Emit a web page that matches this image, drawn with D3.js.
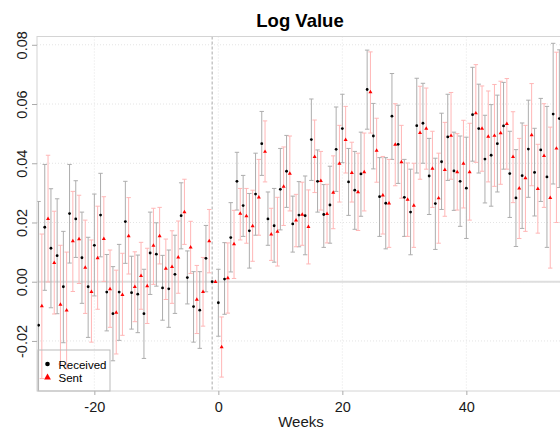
<!DOCTYPE html>
<html><head><meta charset="utf-8">
<script src="https://cdn.jsdelivr.net/npm/d3@7"></script>
<style>
html,body{margin:0;padding:0;background:#fff;}
svg{display:block;font-family:"Liberation Sans",Arial,sans-serif;}
</style></head>
<body><svg id="chart" width="560" height="429"></svg>
<script>
const weeks = [-29,-28,-27,-26,-25,-24,-23,-22,-21,-20,-19,-18,-17,-16,-15,-14,-13,-12,-11,-10,-9,-8,-7,-6,-5,-4,-3,-2,-1,
0,1,2,3,4,5,6,7,8,9,10,11,12,13,14,15,16,17,18,19,20,21,22,23,24,25,26,27,28,29,30,31,32,33,34,35,36,37,38,39,40,
41,42,43,44,45,46,47,48,49,50,51,52,53,54,55];

const receivedValue = [-0.0147,0.0184,0.0113,0.0088,-0.0017,0.0230,0.0212,0.0081,-0.0017,0.0123,0.0225,-0.0035,-0.0108,-0.0035,0.0203,-0.0037,-0.0042,-0.0108,0.0097,0.0093,-0.0021,-0.0024,0.0025,0.0223,0.0014,-0.0084,-0.0096,0.0079,0,
-0.0071,0.0009,0.0149,0.0339,0.0257,0.0172,0.0296,0.0466,0.0212,0.0189,0.0312,0.0373,0.0195,0.0225,0.0223,0.0480,0.0339,0.0227,0.0259,0.0447,0.0517,0.0337,0.0309,0.0364,0.0649,0.0492,0.0287,0.0265,0.0559,0.0464,0.0285,0.0235,0.0527,0.0535,0.0357,0.0264,0.0405,0.0489,0.0374,0.0339,0.0316,
0.0564,0.0517,0.0414,0.0427,0.0466,0.0526,0.0365,0.0283,0.0358,0.0448,0.0369,0.0445,0.0354,0.0566,0.0551];
const receivedLow = [-0.0565,-0.0029,-0.0088,-0.0108,-0.0206,0.0063,0.0082,-0.0073,-0.0188,-0.0048,0.0084,-0.0166,-0.0267,-0.0198,0.0062,-0.0160,-0.0172,-0.0259,-0.0043,-0.0015,-0.0130,-0.0154,-0.0107,0.0111,-0.0075,-0.0204,-0.0225,-0.0034,0,
-0.0184,-0.0110,0.0033,0.0242,0.0153,0.0046,0.0157,0.0359,0.0123,0.0066,0.0175,0.0251,0.0100,0.0118,0.0091,0.0342,0.0235,0.0116,0.0130,0.0305,0.0402,0.0224,0.0177,0.0221,0.0515,0.0381,0.0153,0.0111,0.0413,0.0332,0.0153,0.0091,0.0367,0.0400,0.0227,0.0109,0.0244,0.0342,0.0241,0.0187,0.0146,
0.0407,0.0367,0.0266,0.0255,0.0303,0.0380,0.0217,0.0119,0.0180,0.0285,0.0222,0.0271,0.0116,0.0330,0.0318];
const receivedHigh = [0.0271,0.0396,0.0314,0.0280,0.0170,0.0396,0.0341,0.0235,0.0150,0.0296,0.0366,0.0092,0.0051,0.0126,0.0339,0.0086,0.0090,0.0042,0.0235,0.0199,0.0089,0.0107,0.0157,0.0334,0.0104,0.0034,0.0034,0.0190,0,
0.0042,0.0132,0.0267,0.0437,0.0359,0.0298,0.0434,0.0575,0.0303,0.0315,0.0450,0.0494,0.0289,0.0338,0.0357,0.0617,0.0445,0.0328,0.0390,0.0590,0.0633,0.0450,0.0440,0.0505,0.0782,0.0602,0.0419,0.0419,0.0703,0.0596,0.0413,0.0380,0.0687,0.0670,0.0484,0.0417,0.0569,0.0633,0.0505,0.0492,0.0488,
0.0724,0.0667,0.0562,0.0598,0.0630,0.0673,0.0508,0.0446,0.0536,0.0613,0.0518,0.0619,0.0592,0.0805,0.0783];

const sentValue = [-0.0082,0.0212,0.0064,-0.0077,-0.0097,0.0137,0.0144,0.0048,-0.0034,0.0080,0.0145,-0.0025,-0.0104,-0.0044,0.0154,-0.0017,0.0020,-0.0015,0.0122,0.0154,0.0044,0.0050,0.0082,0.0235,0.0116,-0.0060,-0.0034,0.0137,0,
-0.0221,0.0012,0.0127,0.0230,0.0222,0.0188,0.0285,0.0439,0.0160,0.0169,0.0321,0.0365,0.0207,0.0227,0.0185,0.0422,0.0341,0.0229,0.0301,0.0399,0.0479,0.0368,0.0303,0.0370,0.0640,0.0443,0.0292,0.0265,0.0463,0.0404,0.0277,0.0257,0.0503,0.0517,0.0382,0.0282,0.0378,0.0493,0.0370,0.0399,0.0370,
0.0569,0.0517,0.0490,0.0493,0.0502,0.0533,0.0422,0.0315,0.0350,0.0495,0.0314,0.0425,0.0283,0.0450,null];
const sentLow = [-0.0327,-0.0001,-0.0109,-0.0278,-0.0294,-0.0033,-0.0006,-0.0107,-0.0204,-0.0093,0.0001,-0.0154,-0.0244,-0.0181,0.0026,-0.0135,-0.0093,-0.0141,-0.0009,0.0060,-0.0060,-0.0073,-0.0039,0.0126,0.0028,-0.0175,-0.0150,0.0030,0,
-0.0322,-0.0106,0.0011,0.0141,0.0130,0.0069,0.0157,0.0337,0.0072,0.0053,0.0190,0.0239,0.0118,0.0123,0.0060,0.0301,0.0242,0.0131,0.0179,0.0269,0.0367,0.0269,0.0173,0.0239,0.0502,0.0336,0.0161,0.0116,0.0324,0.0282,0.0153,0.0116,0.0346,0.0380,0.0251,0.0130,0.0221,0.0346,0.0242,0.0249,0.0208,
0.0403,0.0373,0.0337,0.0322,0.0329,0.0380,0.0267,0.0146,0.0170,0.0324,0.0164,0.0251,0.0046,0.0200,null];
const sentHigh = [0.0161,0.0427,0.0238,0.0123,0.0100,0.0305,0.0292,0.0208,0.0141,0.0255,0.0287,0.0107,0.0039,0.0096,0.0284,0.0101,0.0133,0.0113,0.0248,0.0251,0.0144,0.0172,0.0205,0.0346,0.0204,0.0055,0.0082,0.0244,0,
-0.0119,0.0131,0.0241,0.0315,0.0315,0.0309,0.0413,0.0543,0.0248,0.0285,0.0455,0.0492,0.0295,0.0336,0.0310,0.0546,0.0440,0.0329,0.0425,0.0528,0.0592,0.0471,0.0434,0.0502,0.0776,0.0552,0.0423,0.0413,0.0601,0.0528,0.0401,0.0400,0.0660,0.0654,0.0508,0.0434,0.0538,0.0639,0.0500,0.0545,0.0535,
0.0733,0.0661,0.0644,0.0666,0.0677,0.0686,0.0574,0.0484,0.0528,0.0669,0.0464,0.0601,0.0522,0.0775,null];

const xTicks = [-20, 0, 20, 40];
const yTicks = [-0.02, 0.00, 0.02, 0.04, 0.06, 0.08];
const seriesNames = ["Received", "Sent"];
const eventWeek = -1;

(function () {
const svg = d3.select("#chart");
const pL = 37, pT = 36.5, pB = 391;
const x = d3.scaleLinear().domain([-29.25, 56.5]).range([pL, pL + 85.75 * 6.2]);
const y = d3.scaleLinear().domain([-0.0369, 0.0828]).range([pB, pT]);
const pR = x.range()[1];
const dodge = 0.53;

svg.append("defs").append("clipPath").attr("id", "clip")
  .append("rect").attr("x", pL).attr("y", pT).attr("width", pR - pL).attr("height", pB - pT);

// grid
const grid = svg.append("g");
grid.selectAll(".gx").data(xTicks).join("line")
  .attr("x1", d => x(d)).attr("x2", d => x(d)).attr("y1", pT).attr("y2", pB)
  .attr("stroke", "#e4e4e4").attr("stroke-dasharray", "1,2").attr("stroke-width", 1);
grid.selectAll(".gy").data(yTicks).join("line")
  .attr("x1", pL).attr("x2", pR).attr("y1", d => y(d)).attr("y2", d => y(d))
  .attr("stroke", "#e4e4e4").attr("stroke-dasharray", "1,2").attr("stroke-width", 1);

// zero line
svg.append("line").attr("x1", pL).attr("x2", pR).attr("y1", y(0)).attr("y2", y(0))
  .attr("stroke", "#dedede").attr("stroke-width", 2);
// event line
svg.append("line").attr("x1", x(eventWeek)).attr("x2", x(eventWeek)).attr("y1", pT).attr("y2", pB)
  .attr("stroke", "#aaaaaa").attr("stroke-dasharray", "3,2").attr("stroke-width", 1);

const plot = svg.append("g").attr("clip-path", "url(#clip)");

function makeRows(vals, lows, highs, off) {
  return weeks.map((w, i) => ({w: w + off, v: vals[i], lo: lows[i], hi: highs[i]}))
    .filter(d => d.v !== null);
}
const rec = makeRows(receivedValue, receivedLow, receivedHigh, 0);
const sen = makeRows(sentValue, sentLow, sentHigh, dodge);

function drawBars(rows, color) {
  const g = plot.append("g").attr("stroke", color).attr("stroke-width", 1).attr("fill", "none");
  const b = rows.filter(d => d.hi !== d.lo);
  g.selectAll(".v").data(b).join("line")
    .attr("x1", d => x(d.w)).attr("x2", d => x(d.w)).attr("y1", d => y(d.lo)).attr("y2", d => y(d.hi));
  g.selectAll(".t").data(b).join("line")
    .attr("x1", d => x(d.w) - 2.2).attr("x2", d => x(d.w) + 2.2).attr("y1", d => y(d.hi)).attr("y2", d => y(d.hi));
  g.selectAll(".b").data(b).join("line")
    .attr("x1", d => x(d.w) - 2.2).attr("x2", d => x(d.w) + 2.2).attr("y1", d => y(d.lo)).attr("y2", d => y(d.lo));
}
drawBars(rec, "#adadad");
drawBars(sen, "#ffb6b6");

plot.append("g").selectAll("circle").data(rec).join("circle")
  .attr("cx", d => x(d.w)).attr("cy", d => y(d.v)).attr("r", 1.4).attr("fill", "#000");
const tri = d3.symbol().type(d3.symbolTriangle).size(7);
plot.append("g").selectAll("path").data(sen).join("path")
  .attr("transform", d => `translate(${x(d.w)},${y(d.v)})`).attr("d", tri).attr("fill", "#ff0000");

// panel border
svg.append("rect").attr("x", pL).attr("y", pT).attr("width", pR - pL).attr("height", pB - pT)
  .attr("fill", "none").attr("stroke", "#d4d4d4").attr("stroke-width", 1);

// axes
const yAxis = svg.append("g").attr("transform", `translate(${pL},0)`)
  .call(d3.axisLeft(y).tickValues(yTicks).tickSize(5).tickFormat(d => d.toFixed(2)));
yAxis.select(".domain").remove();
yAxis.selectAll(".tick line").attr("stroke", "#aaaaaa");
yAxis.selectAll(".tick text").attr("transform", "rotate(-90)").attr("x", 0).attr("y", -10.5).attr("dy", 0)
  .style("text-anchor", "middle").attr("fill", "#1a1a1a").style("font-size", "14.5px");

const xAxis = svg.append("g").attr("transform", `translate(0,${pB})`)
  .call(d3.axisBottom(x).tickValues(xTicks).tickSize(4).tickFormat(d => String(d)));
xAxis.select(".domain").remove();
xAxis.selectAll(".tick line").attr("stroke", "#aaaaaa");
xAxis.selectAll(".tick text").attr("y", 21).attr("dy", 0).attr("fill", "#1a1a1a").style("font-size", "14.5px");

// titles
svg.append("text").attr("x", 300).attr("y", 27).attr("text-anchor", "middle")
  .style("font-size", "18.5px").style("font-weight", "bold").attr("fill", "#000").text("Log Value");
svg.append("text").attr("x", 301).attr("y", 427).attr("text-anchor", "middle")
  .style("font-size", "15px").attr("fill", "#1a1a1a").text("Weeks");

// legend
const lg = svg.append("g");
lg.append("rect").attr("x", 38).attr("y", 350).attr("width", 72).attr("height", 41)
  .attr("fill", "none").attr("stroke", "#bbbbbb").attr("stroke-width", 1);
lg.append("circle").attr("cx", 47.5).attr("cy", 364).attr("r", 2.3).attr("fill", "#000");
lg.append("path").attr("transform", "translate(47.5,377.5)").attr("d", d3.symbol().type(d3.symbolTriangle).size(20)).attr("fill", "#ff0000");
lg.selectAll(".lt").data(seriesNames).join("text")
  .attr("x", 58.5).attr("y", (d, i) => 368.5 + i * 13.5)
  .style("font-size", "11.5px").attr("fill", "#000").text(d => d);
})();
</script></body></html>
